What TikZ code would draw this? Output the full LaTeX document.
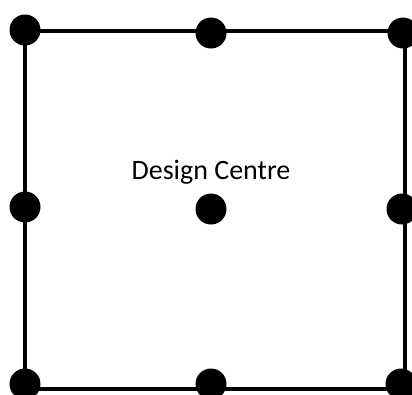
\documentclass[tikz,border=0pt]{standalone}
\usepackage{fontspec}
\setmainfont{Carlito}
\begin{document}
\begin{tikzpicture}[x=1pt,y=-1pt,
  dot/.style={circle,fill=black,inner sep=0pt,minimum size=31pt},
  edge/.style={line width=3.2pt}]
\useasboundingbox (0,0) rectangle (412,394);
\draw[edge] (25,31) -- (405,31) -- (405,389) -- (25,389) -- cycle;
\node[dot] (tl) at (25,30) {};
\node[dot] (tm) at (211,33) {};
\node[dot] (tr) at (403,33) {};
\node[dot] (ml) at (25,207) {};
\node[dot] (c) at (211,209) {};
\node[dot] (mr) at (402,209) {};
\node[dot] (bl) at (25,384) {};
\node[dot] (bm) at (211,384) {};
\node[dot] (br) at (401,384) {};
\node[font=\fontsize{28}{33}\selectfont,inner sep=0pt] (lbl) at (211,172) {Design Centre};
\end{tikzpicture}
\end{document}
